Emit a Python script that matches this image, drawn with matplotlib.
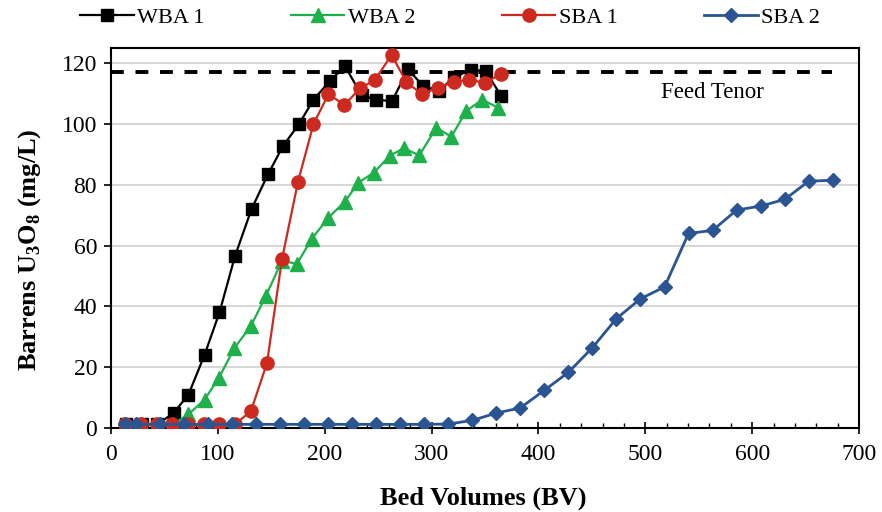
import matplotlib
matplotlib.use("Agg")
import matplotlib.pyplot as plt
from matplotlib.ticker import MultipleLocator

plt.rcParams['font.family'] = ['Liberation Serif', 'DejaVu Serif']
plt.rcParams['mathtext.fontset'] = 'custom'
plt.rcParams['mathtext.rm'] = 'Liberation Serif'
plt.rcParams['mathtext.bf'] = 'Liberation Serif:bold'

# ---- data ----
wba1_x = [14.5, 29, 43.5, 58.5, 72.5, 87.5, 101.5, 116, 131.5, 147, 161, 176, 189.5,
          204.5, 219, 234.5, 248, 263, 278, 292, 307, 321, 336.5, 350.5, 365]
wba1_y = [1.2, 1.2, 1.2, 4.9, 11, 24, 38, 56.5, 72, 83.5, 92.8, 100, 108,
          114, 119, 109.5, 108, 107.5, 118, 112.5, 111, 115.3, 117.8, 117.5, 109.3]

wba2_x = [14.5, 29, 43.5, 58, 72.5, 87.5, 101, 115.5, 131, 145, 160, 174, 188,
          203.5, 219, 231.5, 246, 261, 274, 288.5, 304.5, 318.5, 332.5, 347.5, 362]
wba2_y = [1, 1, 1, 1.2, 4.5, 9.3, 16.5, 26.3, 33.6, 43.5, 55, 54, 62.3,
          69.2, 74.5, 80.7, 84, 89.6, 92, 89.7, 98.8, 95.8, 104.3, 108, 105.4]

sba1_x = [13.5, 28.5, 43, 57.5, 72, 87, 101.5, 116, 131, 146, 160, 175, 189.5,
          203.5, 218.5, 233, 247, 262.5, 276.5, 291, 306, 321, 335, 350, 365]
sba1_y = [1.2, 1.2, 1.2, 1.2, 1.2, 1.2, 1.2, 1.2, 5.6, 21.4, 55.5, 81, 100,
          109.8, 106.3, 111.7, 114.5, 122.7, 113.8, 109.8, 112, 113.8, 114.5, 113.6, 116.4]

sba2_x = [13, 23, 45.5, 68, 90.5, 113, 135.5, 158, 180.5, 203, 225.5, 248, 270.5,
          293, 315.5, 338, 360.5, 383, 405.5, 428, 450.5, 473, 495.5, 518, 540.5,
          563, 585.5, 608, 630.5, 653, 675.5]
sba2_y = [1.2, 1.2, 1.2, 1.2, 1.2, 1.2, 1.2, 1.2, 1.2, 1.2, 1.2, 1.2, 1.2,
          1.2, 1.3, 2.5, 4.9, 6.6, 12.4, 18.3, 26.4, 36, 42.5, 46.4, 64,
          65, 71.7, 73, 75.2, 81.2, 81.5]

feed_x = [0, 675]
feed_y = [117, 117]

x_ticks = [0, 100, 200, 300, 400, 500, 600, 700]
y_ticks = [0, 20, 40, 60, 80, 100, 120]

# ---- figure ----
fig = plt.figure(figsize=(8.82, 5.12), dpi=100)
ax = fig.add_axes([111/882, 1-428/512, (859-111)/882, (428-48)/512])

ax.set_xlim(0, 700)
ax.set_ylim(0, 125)
ax.set_xticks(x_ticks)
ax.set_yticks(y_ticks)
ax.xaxis.set_minor_locator(MultipleLocator(20))
ax.yaxis.grid(True, color='#d0d0d0', linewidth=1.2)
ax.set_axisbelow(True)

ax.plot(feed_x, feed_y, color='black', linewidth=2.8, dashes=(3.3, 3.0), zorder=2)

ax.plot(wba1_x, wba1_y, color='black', linewidth=1.6, marker='s', markersize=8.5,
        label='WBA 1', zorder=3)
ax.plot(wba2_x, wba2_y, color='#1DB04B', linewidth=1.6, marker='^', markersize=9.5,
        label='WBA 2', zorder=4)
ax.plot(sba1_x, sba1_y, color='#CC2A1E', linewidth=1.6, marker='o', markersize=9.5,
        label='SBA 1', zorder=5)
ax.plot(sba2_x, sba2_y, color='#2A5592', linewidth=2.0, marker='D', markersize=7,
        label='SBA 2', zorder=6)

ax.text(563, 110.5, 'Feed Tenor', ha='center', va='center', fontsize=16.5)

for s in ax.spines.values():
    s.set_linewidth(1.5)
    s.set_color('black')

ax.tick_params(axis='y', which='major', direction='out', length=5, width=1.2,
               labelsize=17, pad=5)
ax.tick_params(axis='x', which='major', direction='inout', length=9, width=1.2,
               labelsize=17, pad=7)
ax.tick_params(axis='x', which='minor', direction='in', length=3.5, width=1.0)

ax.set_xlabel('Bed Volumes (BV)', fontsize=19, fontweight='bold')
ax.xaxis.set_label_coords(0.497, -0.155)
ax.set_ylabel(r'Barrens U$_\mathbf{3}$O$_\mathbf{8}$ (mg/L)', fontsize=19,
              fontweight='bold')
ax.yaxis.set_label_coords(-0.091, 0.468)

leg = fig.legend(loc='center', bbox_to_anchor=(450/882, 1-18/512), ncol=4,
                 frameon=False, fontsize=16, handlelength=2.4, columnspacing=3.9,
                 handletextpad=0.15)

fig.savefig('out.png', dpi=100)
